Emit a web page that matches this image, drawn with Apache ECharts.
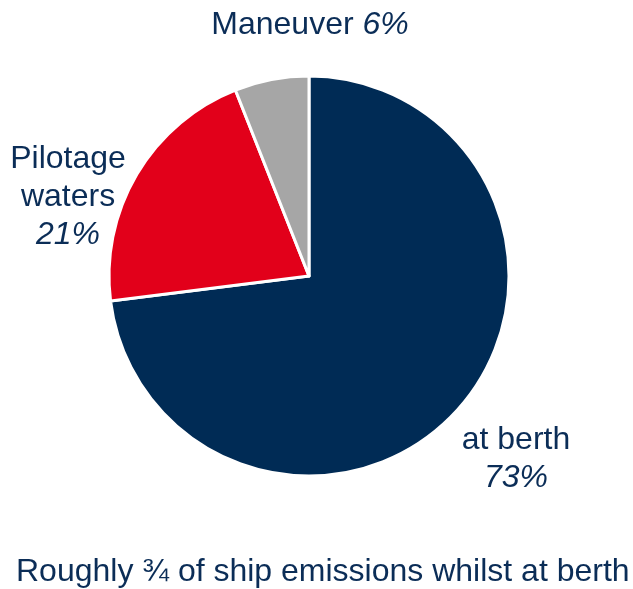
<!DOCTYPE html>
<html>
<head>
<meta charset="utf-8">
<script src="https://cdn.jsdelivr.net/npm/echarts@6/dist/echarts.min.js"></script>
<style>
  html, body { margin: 0; padding: 0; background: #ffffff; }
  #chart { width: 633px; height: 589px; }
</style>
</head>
<body>
<div id="chart"></div>
<script>
// ---- Data ----
var categories = ['at berth', 'Pilotage waters', 'Maneuver'];
var shares = [73, 21, 6];
var sliceColors = ['#002B55', '#E2001A', '#A6A6A6'];
var titleText = 'Roughly \u00BE of ship emissions whilst at berth';

// ---- Label placement (style only) ----
var labelPos = [
  { x: 516, y: 459 },
  { x: 68, y: 197 },
  { x: 310, y: 25 }
];

var textColor = '#0B2D57';
var fontFamily = '"Liberation Sans", Arial, sans-serif';

var chart = echarts.init(document.getElementById('chart'), null, { renderer: 'canvas' });

var seriesData = categories.map(function (c, i) {
  return { name: c, value: shares[i], itemStyle: { color: sliceColors[i] } };
});

chart.setOption({
  animation: false,
  title: {
    text: titleText,
    left: 11,
    top: 550,
    padding: 5,
    textStyle: {
      color: textColor,
      fontFamily: fontFamily,
      fontSize: 32,
      fontWeight: 'normal',
      lineHeight: 34
    }
  },
  series: [{
    type: 'pie',
    center: [309, 276],
    radius: 200,
    startAngle: 90,
    clockwise: true,
    avoidLabelOverlap: false,
    data: seriesData,
    itemStyle: { borderColor: '#ffffff', borderWidth: 3 },
    labelLine: { show: false },
    label: {
      show: true,
      position: 'outside',
      overflow: 'none',
      color: textColor,
      fontFamily: fontFamily,
      fontSize: 32,
      formatter: function (p) {
        var pct = '{i|' + p.value + '%}';
        if (p.dataIndex === 0) return '{n|' + p.name + '}\n' + pct;
        if (p.dataIndex === 1) return p.name.split(' ').map(function (w) { return '{n|' + w + '}'; }).join('\n') + '\n' + pct;
        return '{n|' + p.name + ' }' + pct;
      },
      rich: {
        n: { color: textColor, fontFamily: fontFamily, fontSize: 32, lineHeight: 38 },
        i: { color: textColor, fontFamily: fontFamily, fontSize: 32, fontStyle: 'italic', lineHeight: 38 }
      }
    },
    labelLayout: function (params) {
      var pos = labelPos[params.dataIndex];
      return { x: pos.x, y: pos.y, align: 'center', verticalAlign: 'middle' };
    }
  }]
});
</script>
</body>
</html>
